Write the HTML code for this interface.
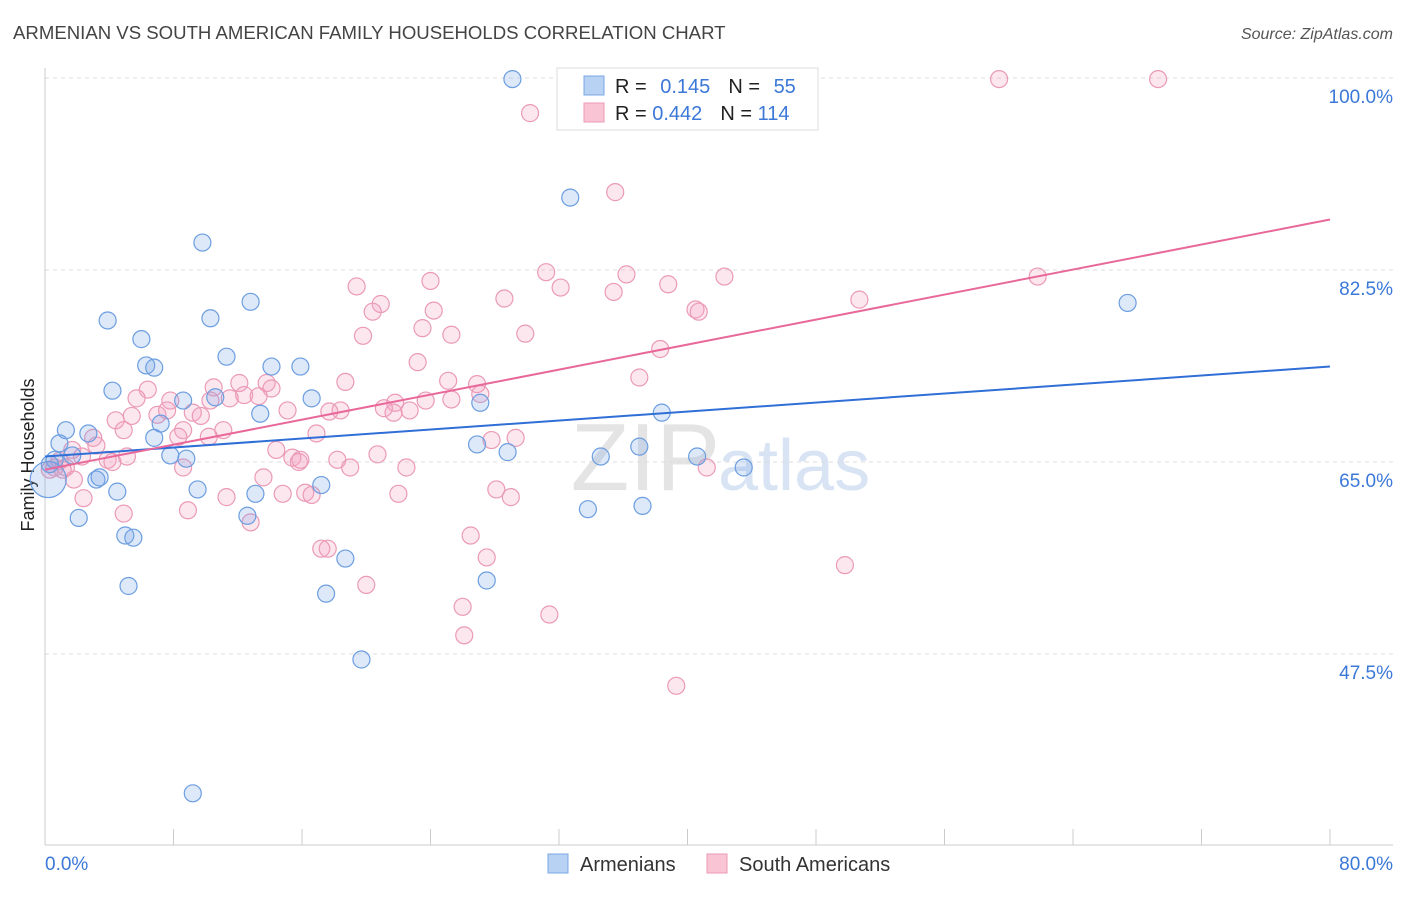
<!DOCTYPE html>
<html><head><meta charset="utf-8"><style>
body{margin:0;background:#fff;font-family:"Liberation Sans",sans-serif;}
svg text{font-family:"Liberation Sans",sans-serif;}
</style></head><body>
<svg id="chart" width="1406" height="892">
<text x="13" y="39" font-size="18.6" fill="#444">ARMENIAN VS SOUTH AMERICAN FAMILY HOUSEHOLDS CORRELATION CHART</text>
<text x="1393" y="39" font-size="16" fill="#555" font-style="italic" text-anchor="end">Source: ZipAtlas.com</text>
<text x="720" y="490" font-size="96" fill="#e4e4e4" text-anchor="end" font-family="Liberation Serif">ZIP</text>
<text x="718" y="490" font-size="72" fill="#d8e4f4">atlas</text>
<text transform="translate(34,455) rotate(-90)" font-size="18" fill="#222" text-anchor="middle">Family Households</text>
<g id="grid"></g><g id="pts"></g><g id="lines"></g>
<g>
<rect x="557" y="68" width="261" height="62" fill="#fff" stroke="#ddd"/>
<rect x="584" y="76" width="20" height="19" fill="#b8d2f4" stroke="#7aa7e4"/>
<rect x="584" y="103" width="20" height="19" fill="#f9c4d4" stroke="#eb9ab6"/>
<text x="615" y="93" font-size="20" fill="#222">R = <tspan fill="#3b78d8" dx="8">0.145</tspan><tspan dx="18" fill="#222">N = </tspan><tspan fill="#3b78d8" dx="8">55</tspan></text>
<text x="615" y="120" font-size="20" fill="#222">R = <tspan fill="#3b78d8">0.442</tspan><tspan dx="18" fill="#222">N = </tspan><tspan fill="#3b78d8">114</tspan></text>
</g>
<g>
<rect x="548" y="854" width="20" height="19" fill="#b8d2f4" stroke="#7aa7e4"/>
<text x="580" y="871" font-size="20" fill="#333">Armenians</text>
<rect x="707" y="854" width="20" height="19" fill="#f9c4d4" stroke="#eb9ab6"/>
<text x="739" y="871" font-size="20" fill="#333">South Americans</text>
</g>
</svg>
<script>
const xTicks=[0,8,16,24,32,40,48,56,64,72,80];
const yTicks=[47.5,65,82.5,100];
const trendArmenians=[65.5,73.7];
const trendSouthAm=[64.3,87.1];
const armX=[29.1,32.7,9.8,12.8,3.9,10.3,6.0,6.3,6.8,11.3,14.1,15.9,4.2,8.6,10.6,13.4,16.6,27.1,38.4,67.4,1.3,0.9,2.7,6.8,7.2,7.8,8.8,26.9,28.8,34.6,37.0,40.6,43.5,0.6,0.3,1.7,3.2,3.4,4.5,9.5,13.1,17.2,2.1,12.6,5.0,5.5,33.8,37.2,18.7,27.5,17.5,5.2,19.7,9.2,0.2];
const armY=[99.9,89.1,85.0,79.6,77.9,78.1,76.2,73.8,73.6,74.6,73.7,73.7,71.5,70.6,70.9,69.4,70.8,70.4,69.5,79.5,67.9,66.7,67.6,67.2,68.5,65.6,65.3,66.6,65.9,65.5,66.4,65.5,64.5,65.2,64.8,65.6,63.4,63.6,62.3,62.5,62.1,62.9,59.9,60.1,58.3,58.1,60.7,61.0,56.2,54.2,53.0,53.7,47.0,34.8,63.4];
const samX=[59.4,69.3,30.2,35.5,31.2,36.2,24.0,19.4,28.6,32.1,35.4,38.8,42.3,61.8,50.7,20.9,20.4,24.2,40.5,40.7,23.5,19.8,25.3,29.9,38.3,23.2,37.0,6.4,10.5,12.1,13.8,18.7,25.1,26.9,5.7,7.8,12.4,14.1,10.3,27.1,21.8,23.7,25.3,4.4,5.4,7.0,9.2,9.7,11.5,13.3,15.1,18.4,21.1,21.7,17.7,22.7,7.6,8.6,11.1,3.0,3.2,4.9,8.3,10.2,16.9,27.8,29.3,1.7,2.3,0.9,1.3,3.9,4.2,5.1,14.4,15.4,15.8,15.9,18.2,20.7,22.5,19.0,8.6,13.6,1.8,2.4,4.9,8.9,11.3,12.8,14.8,16.2,16.6,22.0,28.1,29.0,41.2,26.5,17.2,17.6,27.5,20.0,26.0,31.4,26.1,49.8,39.3,0.6,1.1,0.3];
const samY=[99.9,99.9,96.8,89.6,82.3,82.1,81.5,81.0,79.9,80.9,80.5,81.2,81.9,81.9,79.8,79.4,78.7,78.8,78.9,78.7,77.2,76.5,76.6,76.7,75.3,74.1,72.7,71.6,71.8,72.2,72.2,72.3,72.4,72.1,70.8,70.6,71.1,71.7,70.6,71.2,70.4,70.6,70.7,68.8,69.2,69.3,69.5,69.2,70.8,71.0,69.7,69.7,69.9,69.5,69.6,69.7,69.7,67.9,67.9,67.2,66.5,67.9,67.3,67.3,67.6,67.0,67.2,66.1,65.5,65.1,64.5,65.2,65.0,65.5,66.1,65.4,65.0,65.2,65.2,65.7,64.5,64.5,64.5,63.6,63.4,61.7,60.3,60.6,61.8,59.5,62.1,62.2,62.0,62.1,62.5,61.8,64.5,58.3,57.1,57.1,56.3,53.8,51.8,51.1,49.2,55.6,44.6,64.5,64.3,64.3];
const NS='http://www.w3.org/2000/svg';
const X=v=>45+v/80*1285;
const Y=v=>78+(100-v)/17.5*192;
function mk(tag,attrs,parent){const e=document.createElementNS(NS,tag);for(const k in attrs)e.setAttribute(k,attrs[k]);parent.appendChild(e);return e;}
const grid=document.getElementById('grid'),pts=document.getElementById('pts'),lines=document.getElementById('lines');
yTicks.forEach(t=>{
 const l=mk('line',{x1:45,x2:1393,y1:Y(t),y2:Y(t),stroke:'#ddd','stroke-dasharray':'4,4'},grid);
 
 
 const tx=mk('text',{x:1393,y:Y(t)+25,'font-size':19,fill:'#3b78d8','text-anchor':'end'},grid);
 tx.textContent=t.toFixed(1)+'%';
 
 
});
const ax=mk('line',{x1:45,x2:1393,y1:845,y2:845,stroke:'#ccc'},grid);


const ay=mk('line',{x1:45,x2:45,y1:68,y2:845,stroke:'#ccc'},grid);


xTicks.forEach(t=>{
 const l=mk('line',{x1:X(t),x2:X(t),y1:829,y2:845,stroke:'#ccc'},grid);
 
 
});
[[0,'0.0%','start',45],[80,'80.0%','end',1393]].forEach(a=>{
 const tx=mk('text',{x:a[3],y:870,'font-size':19,fill:'#3b78d8','text-anchor':a[2]},grid);
 tx.textContent=a[1];
 
 
});
samX.forEach((x,i)=>{
 const c=mk('circle',{cx:X(x),cy:Y(samY[i]),r:8.5,fill:'rgba(244,160,190,0.25)',stroke:'#eb9ab6','stroke-width':1.2},pts);
 
 
});
armX.forEach((x,i)=>{
 const big=i===armX.length-1;
 const c=mk('circle',{cx:X(x),cy:Y(armY[i]),r:big?18:8.5,fill:'rgba(120,165,230,0.25)',stroke:'#6c9ee0','stroke-width':1.2},pts);
 
 
});
const tb=mk('line',{x1:X(0),y1:Y(trendArmenians[0]),x2:X(80),y2:Y(trendArmenians[1]),stroke:'#2f6fd6','stroke-width':2},lines);


const tp=mk('line',{x1:X(0),y1:Y(trendSouthAm[0]),x2:X(80),y2:Y(trendSouthAm[1]),stroke:'#e8689a','stroke-width':2},lines);


</script>
</body></html>
